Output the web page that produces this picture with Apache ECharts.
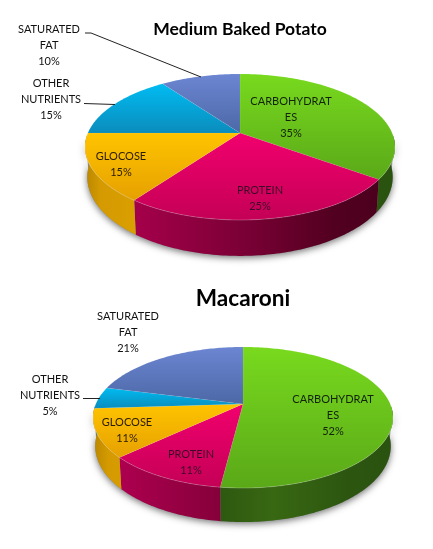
<!DOCTYPE html>
<html><head><meta charset="utf-8">
<style>html,body{margin:0;padding:0;background:#fff}#c{width:433px;height:549px}</style>
<script src="https://cdn.jsdelivr.net/npm/echarts@6/dist/echarts.min.js"></script>
</head><body><div id="c"></div>
<script>
// ---- data ----
const categories = ['CARBOHYDRATES','PROTEIN','GLOCOSE','OTHER NUTRIENTS','SATURATED FAT'];
const categoryLines = [['CARBOHYDRAT','ES'],['PROTEIN'],['GLOCOSE'],['OTHER','NUTRIENTS'],['SATURATED','FAT']];
const potatoValues = [35,25,15,15,10];
const macaroniValues = [52,11,11,5,21];
const potatoTitle = 'Medium Baked Potato';
const macaroniTitle = 'Macaroni';

// ---- styles ----
const topColors = [['#78da1e','#5aa818'],['#f2006e','#c40056'],['#ffc400','#e6a000'],['#00bcf2','#0b8cbc'],['#6c86d2','#4c68a6']];
const sideStops = [
  [[0,'#2c5610'],[.4,'#2c5610'],[.6,'#386812'],[.85,'#2c5610'],[1,'#2a5210']],
  [[0,'#b80054'],[.5,'#7c0036'],[.8,'#520020'],[1,'#4a001c']],
  [[0,'#b88600'],[.05,'#d49a00'],[.2,'#dca000'],[1,'#dca000']],
  [[0,'#0a7aa0'],[1,'#0a7aa0']],
  [[0,'#3c5288'],[1,'#3c5288']]
];
const labelColors = ['#12240a','#3d0a28','#2a1c00','#111','#111'];

// ---- layout ----
const layouts = [
 { values: potatoValues, title: potatoTitle, titleX:240, titleY:29, titleSize:17.5,
   cx:240, cy:133, up:59, down:87, half:155, depth:29, shrink:.985,
   labels:[[291,101],[260,190],[121,156],[51,83],[49,29]],
   leaders:[[[84,103.5],[115,104.5]],[[85,33],[91,33],[201,77]]] },
 { values: macaroniValues, title: macaroniTitle, titleX:243, titleY:299, titleSize:22.6,
   cx:243, cy:404, up:57, down:84, half:150, depth:27.5, shrink:.985,
   labels:[[333,399],[191,454],[127,422],[50,379],[128,316]],
   leaders:[[[83,398.5],[100,398.5]]] }
];
const LINE = 16, DEG = Math.PI/180;

function projector(L){
  const p=(L.down-L.up)/(L.down+L.up), B=L.up*(1+p), A=L.half*Math.sqrt(1-p*p);
  return {
    top(t,r=1){const s=Math.sin(t*DEG),c=Math.cos(t*DEG),w=1+p*c*r;return [L.cx+A*s*r/w, L.cy-B*c*r/w];},
    bottom(t){const s=Math.sin(t*DEG),c=Math.cos(t*DEG),w=1+p*c;
      return [L.cx+L.shrink*A*s/w, L.cy-B*c/w+L.depth/w];}
  };
}
function spans(values){
  const total=values.reduce((a,b)=>a+b,0);let acc=0;
  return values.map(v=>{const a=acc/total*360;acc+=v;return [a,acc/total*360];});
}
function arc(fn,a,b){const out=[];const n=Math.max(2,Math.ceil(Math.abs(b-a)));
  for(let i=0;i<=n;i++)out.push(fn(a+(b-a)*i/n));return out;}

function sideRender(L){
  const P=projector(L), S=spans(L.values);
  return function(params){
    const i=params.dataIndex, ch=[];
    if(i===0){
      const ring=arc(P.bottom,95,265).concat(arc(P.top,265,95));
      ch.push({type:'polygon',shape:{points:ring},silent:true,
        style:{fill:'#888',shadowBlur:7,shadowColor:'rgba(0,0,0,.55)',shadowOffsetY:2,shadowOffsetX:0}});
    }
    const a=Math.max(S[i][0],92), b=Math.min(S[i][1],268);
    if(b>a){
      const pts=arc(P.top,a,b).concat(arc(P.bottom,b,a));
      ch.push({type:'polygon',shape:{points:pts},silent:true,style:{
        fill:{type:'linear',global:true,x:L.cx-L.half,y:0,x2:L.cx+L.half,y2:0,
              colorStops:sideStops[i].map(s=>({offset:s[0],color:s[1]}))},
        stroke:null}});
    }
    return {type:'group',children:ch};
  };
}
function topRender(L){
  const P=projector(L), S=spans(L.values);
  return function(params){
    const i=params.dataIndex,[a,b]=S[i];
    const pts=[[L.cx,L.cy]].concat(arc(P.top,a,b));
    const ch=[{type:'polygon',shape:{points:pts},silent:true,style:{
      fill:{type:'linear',x:0,y:0,x2:0,y2:1,colorStops:[{offset:0,color:topColors[i][0]},{offset:1,color:topColors[i][1]}]},
      stroke:'rgba(255,255,255,.12)',lineWidth:.5}}];
    const ra=Math.max(a,100), rb=Math.min(b,262);
    if(rb>ra) ch.push({type:'polyline',shape:{points:arc(P.top,ra,rb)},silent:true,
      style:{stroke:'rgba(255,255,255,.18)',lineWidth:1,fill:null}});
    return {type:'group',children:ch};
  };
}
function labelRender(L){
  const total=L.values.reduce((a,b)=>a+b,0);
  return function(params){
    const i=params.dataIndex;
    const lines=categoryLines[i].concat([Math.round(L.values[i]/total*100)+'%']);
    const [x,y]=L.labels[i];
    return {type:'group',children:lines.map((t,k)=>({type:'text',silent:true,style:{
      text:t,x:x,y:y+k*LINE,align:'center',verticalAlign:'middle',
      font:'11px Lato, "Open Sans", sans-serif',fill:labelColors[i]}}))};
  };
}
function leaderRender(L){
  return function(){
    return {type:'group',children:L.leaders.map(pts=>({type:'polyline',silent:true,shape:{points:pts},
      style:{stroke:'#222',lineWidth:1,fill:null}}))};
  };
}

const series=[];
layouts.forEach(L=>{
  const data=L.values.map((v,i)=>({name:categories[i],value:[v]}));
  [sideRender,topRender,labelRender].forEach((r,k)=>series.push({
    type:'custom',coordinateSystem:'none',data,renderItem:r(L),z:2+k,animation:false,silent:true}));
  series.push({type:'custom',coordinateSystem:'none',data:[{value:[1]}],renderItem:leaderRender(L),z:5,animation:false,silent:true});
});

const chart=echarts.init(document.getElementById('c'),null,{renderer:'canvas'});
chart.setOption({
  animation:false,backgroundColor:'#fff',
  title:layouts.map(L=>({text:L.title,left:L.titleX,top:L.titleY,textAlign:'center',textVerticalAlign:'middle',padding:0,
    textStyle:{fontFamily:'Lato, "Open Sans", sans-serif',fontWeight:'bold',fontSize:L.titleSize,color:'#000'}})),
  series
});
</script></body></html>
